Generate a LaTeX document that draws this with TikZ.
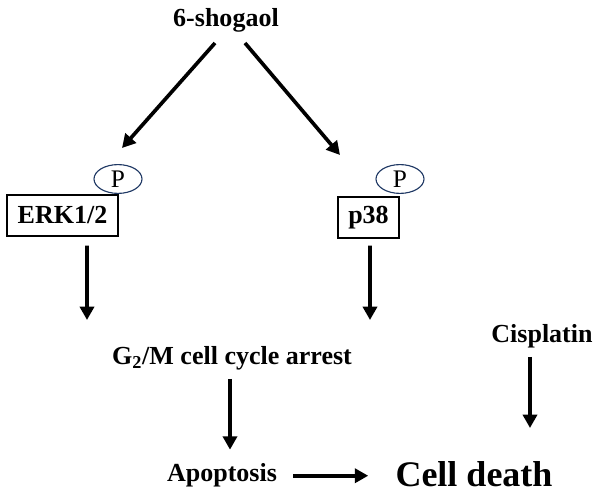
\documentclass[tikz,border=0pt]{standalone}
\usepackage{fontspec}
\setmainfont{Liberation Serif}
\usetikzlibrary{arrows.meta,shapes.geometric}
\definecolor{pnavy}{RGB}{31,56,100}
\tikzset{
  lbl/.style={font=\bfseries\fontsize{18.5}{20}\selectfont, inner sep=0pt, anchor=base},
  kinase/.style={draw, line width=0.8pt, font=\bfseries\fontsize{18.5}{20}\selectfont, minimum height=1.025cm, inner sep=0pt},
  phos/.style={draw=pnavy, line width=0.8pt, ellipse, minimum width=1.2cm, minimum height=0.72cm, inner sep=0pt, font=\fontsize{18}{20}\selectfont},
  arr/.style={line width=2.6pt, -{Triangle[length=9.5pt,width=10pt]}}
}
\begin{document}
\begin{tikzpicture}[x=0.025cm, y=-0.025cm]
    \useasboundingbox (0,0) rectangle (600,497);
    \node[lbl] (shogaol) at (226,27) {6-shogaol};
    \node[kinase, minimum width=2.775cm] (erk) at (62.5,215.5) {ERK1/2};
    \node[phos] (perk) at (118,179) {P};
    \node[kinase, minimum width=1.525cm] (p38) at (368.5,217.5) {p38};
    \node[phos] (pp38) at (400,179) {P};
    \node[lbl] (arrest) at (232,365) {G\textsubscript{2}/M cell cycle arrest};
    \node[lbl] (cis) at (542,343) {Cisplatin};
    \node[lbl] (apop) at (222,482) {Apoptosis};
    \node[lbl, font=\bfseries\fontsize{25.6}{28}\selectfont] (death) at (474,487) {Cell death};
    % arrow ends
    \coordinate (erkin) at (122,148);
    \coordinate (p38in) at (340,155);
    \coordinate (erkout) at (87,320);
    \coordinate (p38out) at (370,320);
    \coordinate (cisout) at (530,428);
    \draw[arr] ([shift={(-11,10)}]shogaol.south) -- (erkin);
    \draw[arr] ([shift={(19,10)}]shogaol.south) -- (p38in);
    \draw[arr] ([shift={(24.5,9)}]erk.south) -- (erkout);
    \draw[arr] ([shift={(1.5,7)}]p38.south) -- (p38out);
    \draw[arr] ([shift={(-2,8)}]arrest.south) -- ([shift={(8,-14)}]apop.north);
    \draw[arr, shorten <=0.4cm, shorten >=0.675cm] (apop.east) -- (apop.east -| death.west);
    \draw[arr] ([shift={(-12,8)}]cis.south) -- (cisout);
\end{tikzpicture}
\end{document}
